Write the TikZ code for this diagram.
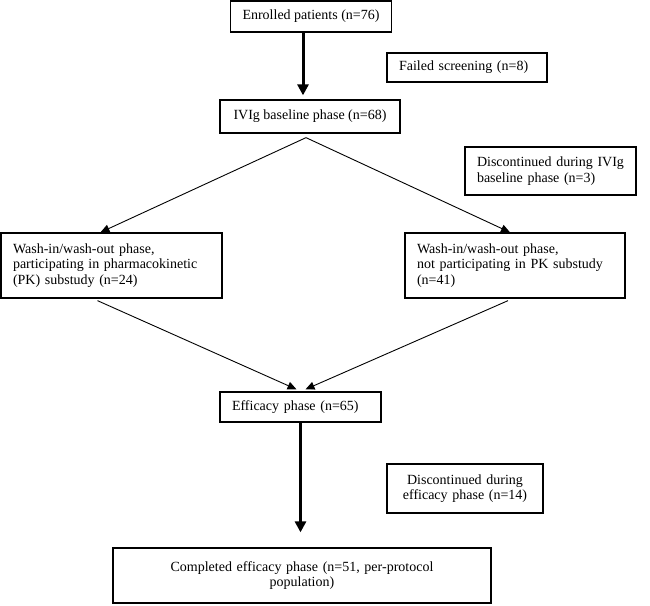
\documentclass[tikz,border=0pt]{standalone}
\usepackage{fontspec}
\setmainfont{Liberation Serif}
\usetikzlibrary{positioning, arrows.meta, calc}

\begin{document}
\begin{tikzpicture}[x=1pt, y=-1pt, >=Triangle,
  box/.style={draw, line width=1.3pt, inner xsep=12pt, inner ysep=0pt, align=left,
    font=\fontsize{14}{15.5}\selectfont},
  link/.style={->, line width=0.9pt, >={Triangle[length=9pt,width=8pt]}},
  flow/.style={->, line width=3pt, >={Triangle[length=11pt,width=11pt]}, shorten >=4pt}]
  \useasboundingbox (0,0) rectangle (650,605);
  \node[box, minimum width=155pt, minimum height=31pt] (enr) at (311,16.5) {Enrolled patients (n=76)};
  \node[box, text width=136pt, minimum height=29pt] (fail) at (467,67.5) {Failed screening (n=8)};
  \node[box, minimum width=180pt, minimum height=33pt] (ivig) at (310,116.5) {IVIg baseline phase (n=68)};
  \node[box, text width=147pt, minimum height=48pt] (disc1) at (550.5,171) {Discontinued during IVIg\\baseline phase (n=3)};
  \node[box, text width=197pt, minimum height=65pt] (washpk) at (111.5,265.5) {Wash-in/wash-out phase,\\participating in pharmacokinetic\\(PK) substudy (n=24)};
  \node[box, text width=196pt, minimum height=65pt] (washno) at (515,265.5) {Wash-in/wash-out phase,\\not participating in PK substudy\\(n=41)};
  \node[box, text width=137pt, minimum height=30pt] (eff) at (300.5,407) {Efficacy phase (n=65)};
  \node[box, text width=132pt, minimum height=49pt, align=center] (disc2) at (465,488.5) {Discontinued during\\efficacy phase (n=14)};
  \node[box, text width=354pt, minimum height=55pt, align=center] (compl) at (302,575.5) {Completed efficacy phase (n=51, per-protocol\\population)};
  \coordinate (split) at ($(ivig.south)+(-4,4)$);
  \coordinate (drop) at ($(enr.south)+(-8,0)$);
  \draw[flow] (drop) -- (drop |- ivig.north);
  \draw[link] (split) -- ($(washpk.north)+(-11,0)$);
  \draw[link] (split) -- ($(washno.north)+(-5,0)$);
  \draw[link] ($(washpk.south)+(-14,2)$) -- ($(eff.north)+(-4,-2)$);
  \draw[link] ($(washno.south)+(-7,2)$) -- ($(eff.north)+(5,-2)$);
  \draw[flow, shorten >=15pt] (eff.south) -- (eff.south |- compl.north);
\end{tikzpicture}
\end{document}
